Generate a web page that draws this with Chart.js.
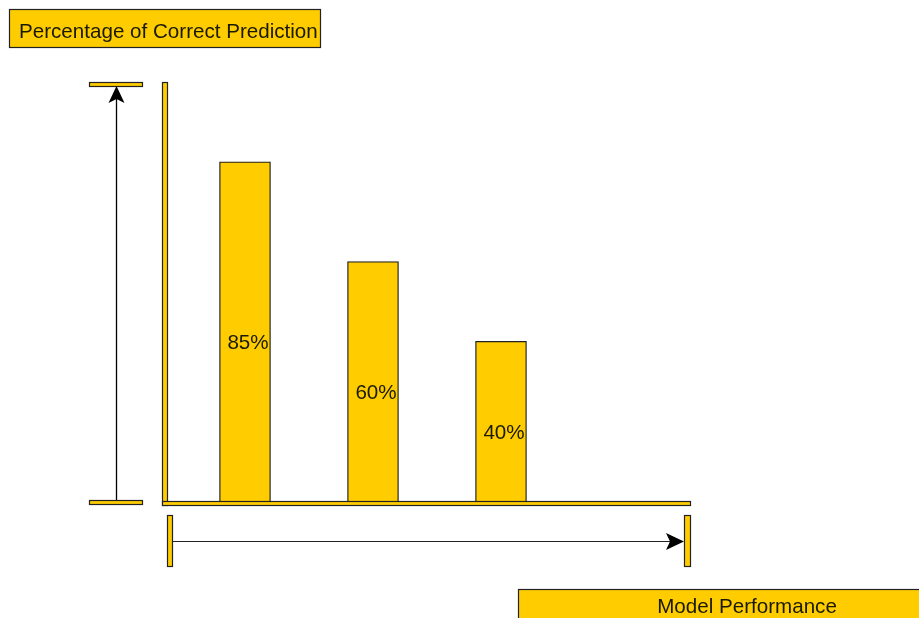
<!DOCTYPE html>
<html>
<head>
<meta charset="utf-8">
<title>Model Performance</title>
<script src="https://cdn.jsdelivr.net/npm/chart.js@4"></script>
<style>
    html, body { margin: 0; padding: 0; background: #ffffff; }
    #wrap { width: 919px; height: 618px; position: relative; }
</style>
</head>
<body>
<div id="wrap"><canvas id="myChart" width="919" height="618"></canvas></div>
<script>
// Dados do gráfico
const categories = ['Model 1', 'Model 2', 'Model 3'];
const correctPct = [85, 60, 40];
const barLabels = ['85%', '60%', '40%'];
const yAxisTitle = 'Percentage of Correct Prediction';
const xAxisTitle = 'Model Performance';

const YELLOW = '#FFCC00';
const STROKE = '#222222';
const FONT = '20.6px "Liberation Sans", Arial, sans-serif';

// Retângulo amarelo com contorno
function box(ctx, x, y, w, h) {
    ctx.fillStyle = YELLOW;
    ctx.strokeStyle = STROKE;
    ctx.lineWidth = 1.2;
    ctx.fillRect(x, y, w, h);
    ctx.strokeRect(x + 0.5, y + 0.5, w - 1, h - 1);
}

function arrowHead(ctx, tipX, tipY, dir) {
    ctx.fillStyle = '#000';
    ctx.beginPath();
    if (dir === 'up') {
        ctx.moveTo(tipX, tipY);
        ctx.lineTo(tipX + 8, tipY + 17);
        ctx.lineTo(tipX, tipY + 13);
        ctx.lineTo(tipX - 8, tipY + 17);
    } else {
        ctx.moveTo(tipX, tipY);
        ctx.lineTo(tipX - 18, tipY + 8.5);
        ctx.lineTo(tipX - 14, tipY);
        ctx.lineTo(tipX - 18, tipY - 8.5);
    }
    ctx.closePath();
    ctx.fill();
}

// Plugin que desenha as caixas, eixos e setas
const decorations = {
    id: 'decorations',
    afterDatasetsDraw(chart) {
        const ctx = chart.ctx;
        const area = chart.chartArea;
        const zeroY = chart.scales.y.getPixelForValue(0);
        ctx.save();

        // caixas de título
        box(ctx, 9, 9, 312, 39);
        box(ctx, 518, 589, 420, 40);
        ctx.fillStyle = '#1a1a00';
        ctx.font = FONT;
        ctx.textBaseline = 'alphabetic';
        ctx.textAlign = 'left';
        ctx.fillText(yAxisTitle, 19, 38);
        ctx.textAlign = 'center';
        ctx.fillText(xAxisTitle, 747, 613);

        // eixos em forma de barra
        box(ctx, 162, area.top, 6, zeroY + 5 - area.top);
        box(ctx, 162, zeroY, 529, 5);

        // marcadores da seta vertical
        box(ctx, 89, area.top, 54, 5);
        box(ctx, 89, zeroY - 1, 54, 5);
        ctx.strokeStyle = '#000';
        ctx.lineWidth = 1.3;
        ctx.beginPath();
        ctx.moveTo(116.5, zeroY - 1);
        ctx.lineTo(116.5, area.top + 14);
        ctx.stroke();
        arrowHead(ctx, 116.5, area.top + 4, 'up');

        // marcadores da seta horizontal
        box(ctx, 167, 515, 6, 52);
        box(ctx, 684, 515, 7, 52);
        ctx.beginPath();
        ctx.moveTo(173, 541.5);
        ctx.lineTo(672, 541.5);
        ctx.stroke();
        arrowHead(ctx, 684, 541.5, 'right');

        ctx.restore();
    },
    afterDraw(chart) {
        const ctx = chart.ctx;
        const meta = chart.getDatasetMeta(0);
        ctx.save();
        ctx.fillStyle = '#1a1a00';
        ctx.font = FONT;
        ctx.textAlign = 'center';
        ctx.textBaseline = 'middle';
        meta.data.forEach((bar, i) => {
            const mid = (bar.y + bar.base) / 2;
            ctx.fillText(barLabels[i], bar.x + 3, mid + 12);
        });
        ctx.restore();
    }
};

const ctx = document.getElementById('myChart').getContext('2d');
const myChart = new Chart(ctx, {
    type: 'bar',
    data: {
        labels: categories,
        datasets: [{
            label: xAxisTitle,
            data: correctPct,
            backgroundColor: YELLOW,
            borderColor: STROKE,
            borderWidth: 1.3,
            barThickness: 51
        }]
    },
    options: {
        responsive: false,
        animation: false,
        layout: {
            padding: { left: 181, right: 354, top: 82, bottom: 117 }
        },
        scales: {
            x: { display: false },
            y: { display: false, min: 0, max: 105 }
        },
        plugins: {
            legend: { display: false },
            tooltip: { enabled: false }
        }
    },
    plugins: [decorations]
});
</script>
</body>
</html>
